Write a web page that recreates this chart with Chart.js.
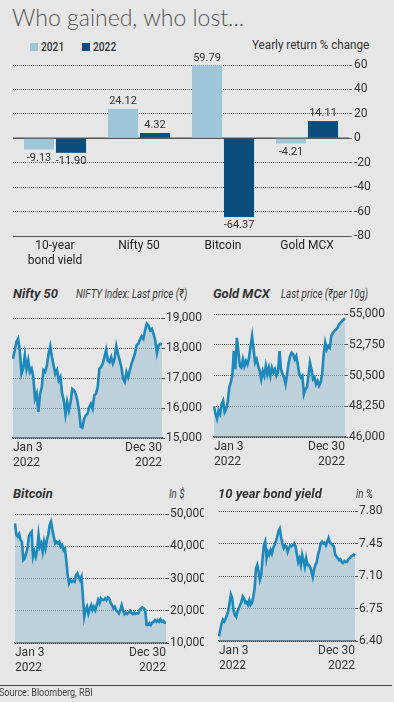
<!DOCTYPE html>
<html>
<head>
<meta charset="utf-8">
<script src="https://cdn.jsdelivr.net/npm/chart.js@4.4.1/dist/chart.umd.min.js"></script>
<style>
  body { margin: 0; width: 394px; height: 702px; background: #e6e6e6; position: relative; overflow: hidden;
         font-family: Roboto, sans-serif; color: #333; }
  canvas { position: absolute; }
  .t { position: absolute; white-space: nowrap; transform-origin: left top; }
  .head { font-weight: bold; font-style: italic; font-size: 13px; color: #333; }
  .sub { font-style: italic; font-size: 12.5px; color: #3a3a3a; transform: scaleX(0.78); }
  .sq { position: absolute; width: 8px; height: 8px; }
</style>
</head>
<body>

<div class="t" style="left:12px;top:3px;font:300 23px Lato, 'Open Sans', sans-serif;color:#555;">Who gained, who lost...</div>

<div class="sq" style="left:30px;top:43px;background:#9fc5d8;"></div>
<div class="t" style="left:41px;top:40px;font-size:12px;font-weight:500;transform:scaleX(0.85);">2021</div>
<div class="sq" style="left:82px;top:43px;background:#0b4d7c;"></div>
<div class="t" style="left:93px;top:40px;font-size:12px;font-weight:500;transform:scaleX(0.85);">2022</div>
<div class="t" style="left:252px;top:38px;font-size:12px;transform:scaleX(0.97);">Yearly return % change</div>

<canvas id="bars" width="394" height="264" style="left:0;top:0;"></canvas>

<div class="t head" style="left:13px;top:286px;">Nifty 50</div>
<div class="t sub" style="left:76px;top:286px;">NIFTY Index: Last price (₹)</div>
<div class="t head" style="left:213px;top:286px;">Gold MCX</div>
<div class="t sub" style="left:281px;top:286px;">Last price (₹per 10g)</div>
<canvas id="nifty" width="204" height="175" style="left:0;top:300px;"></canvas>
<canvas id="gold" width="194" height="175" style="left:200px;top:300px;"></canvas>

<div class="t head" style="left:13px;top:486px;">Bitcoin</div>
<div class="t sub" style="left:169px;top:486px;">In $</div>
<div class="t head" style="left:218px;top:486px;">10 year bond yield</div>
<div class="t sub" style="left:356px;top:486px;">in %</div>
<canvas id="btc" width="204" height="185" style="left:0;top:495px;"></canvas>
<canvas id="bond" width="190" height="185" style="left:204px;top:495px;"></canvas>

<div style="position:absolute;left:0;top:685px;width:392px;height:1px;background:#444;"></div>
<div class="t" style="left:-1px;top:687px;font-size:10px;color:#444;transform:scaleX(0.9);">Source: Bloomberg, RBI</div>

<script>
// BAR DATA
const categories = [['10-year', 'bond yield'], 'Nifty 50', 'Bitcoin', 'Gold MCX'];
const returns2021 = [-9.13, 24.12, 59.79, -4.21];
const returns2022 = [-11.90, 4.32, -64.37, 14.11];
const barTicks = [60, 50, 40, 30, 20, 10, 0, -10, -20, -30, -40, -50, -60, -70, -80];

// LINE DATA (roughly every few trading days)
const niftyValues = [17640, 17920, 18200, 18310, 17920, 17140, 17310, 17760, 17310, 17590, 17200, 17310, 17030, 16310,
  16480, 15870, 16480, 16700, 17260, 17200, 17420, 17810, 18060, 17700, 17420, 17140, 17260, 16920, 17030, 16480,
  16260, 15790, 16200, 15920, 16200, 16640, 16590, 16480, 16260, 15920, 15370, 15340, 15640, 15760, 15810, 16030,
  16140, 15980, 16420, 16480, 16700, 17310, 17370, 17480, 17700, 17940, 17590, 17530, 17700, 17480, 17640, 18060,
  17810, 17590, 17370, 16980, 16870, 17200, 17030, 17260, 17480, 17640, 17810, 18090, 18140, 18280, 18390, 18310,
  18590, 18810, 18760, 18590, 18640, 18480, 18260, 17830, 18090, 18140, 18120];
const niftyTicks = [15000, 16000, 17000, 18000, 19000];

const goldValues = [48230, 47690, 47330, 47940, 47690, 48420, 48660, 47820, 48060, 48540, 49630, 49990, 50480, 52290,
  50960, 53260, 52290, 51200, 51080, 51690, 51200, 51570, 51320, 51810, 52650, 53380, 52410, 51440, 51690, 51200,
  50840, 50230, 50840, 50480, 51200, 50600, 51080, 50480, 51080, 50720, 50960, 50480, 50720, 52290, 50960, 50600,
  50360, 49870, 50600, 51440, 51930, 52170, 52050, 51690, 51930, 51320, 50600, 50360, 50480, 49150, 49510, 49630,
  50480, 51440, 50960, 50230, 50360, 49870, 50110, 49750, 49990, 50600, 52050, 52900, 52410, 52650, 52530, 53380,
  53620, 53740, 53860, 53980, 54230, 54350, 54470, 54590, 54660];
const goldTicks = [46000, 48250, 50500, 52750, 55000];

const btcValues = [47100, 43490, 42970, 43800, 41930, 41420, 35730, 36250, 37800, 39350, 42970, 44000, 44520, 36760,
  38310, 36760, 38830, 43490, 39870, 40900, 38310, 41420, 39350, 41930, 43490, 46590, 47620, 45040, 42970, 40900,
  41420, 40900, 41420, 39870, 40380, 38830, 39350, 35730, 31080, 28490, 29530, 29010, 29320, 29010, 31080, 31600,
  30560, 29530, 30560, 24360, 18150, 20220, 21250, 19180, 20740, 21770, 20220, 21250, 20220, 21770, 23320, 22290,
  23840, 23320, 23320, 23840, 23320, 24150, 23840, 22500, 21770, 20740, 21250, 20220, 19700, 19180, 20220, 21770,
  20220, 18980, 19390, 18980, 19390, 20010, 19390, 18980, 19390, 18980, 19180, 19180, 20220, 20740, 21050, 20740,
  20220, 15570, 15570, 16080, 15570, 16290, 16600, 17120, 16600, 17120, 16600, 17330, 16600, 16910, 16290, 16290];
const btcTicks = [10000, 20000, 30000, 40000, 50000];

const bondValues = [6.45, 6.52, 6.59, 6.63, 6.61, 6.64, 6.68, 6.72, 6.81, 6.90, 6.86, 6.73, 6.68, 6.66, 6.72, 6.75,
  6.79, 6.82, 6.88, 6.86, 6.81, 6.82, 6.79, 6.84, 6.79, 6.81, 6.88, 6.97, 7.18, 7.22, 7.15, 7.06, 7.11, 7.29, 7.43,
  7.47, 7.29, 7.36, 7.33, 7.38, 7.34, 7.40, 7.43, 7.47, 7.52, 7.58, 7.61, 7.52, 7.45, 7.40, 7.43, 7.42, 7.36, 7.40,
  7.43, 7.42, 7.43, 7.45, 7.42, 7.33, 7.25, 7.29, 7.22, 7.33, 7.27, 7.20, 7.29, 7.22, 7.22, 7.20, 7.15, 7.09, 7.17,
  7.22, 7.25, 7.33, 7.38, 7.45, 7.47, 7.45, 7.46, 7.43, 7.47, 7.51, 7.46, 7.45, 7.43, 7.42, 7.33, 7.31, 7.29, 7.27,
  7.28, 7.25, 7.24, 7.26, 7.25, 7.25, 7.28, 7.29, 7.31, 7.32, 7.33, 7.32];
const bondTicks = [6.40, 6.75, 7.10, 7.45, 7.80];

const dateLabels = [['Jan 3', '2022'], ['Dec 30', '2022']];

const FONT = 'Roboto, sans-serif';
Chart.defaults.font.family = FONT;
Chart.defaults.font.size = 12;
Chart.defaults.color = '#333';
Chart.defaults.animation = false;

// values on top / under the bars, solid zero line
const barLabels = {
  id: 'barLabels',
  beforeDatasetsDraw(chart) {
    const ctx = chart.ctx;
    const y0 = chart.scales.y.getPixelForValue(0);
    ctx.save();
    ctx.strokeStyle = '#555';
    ctx.lineWidth = 1.5;
    ctx.beginPath();
    ctx.moveTo(chart.chartArea.left, y0);
    ctx.lineTo(chart.chartArea.right, y0);
    ctx.stroke();
    ctx.restore();
  },
  afterDatasetsDraw(chart) {
    const ctx = chart.ctx;
    ctx.save();
    ctx.font = '11px ' + FONT;
    ctx.fillStyle = '#333';
    ctx.textAlign = 'center';
    chart.data.datasets.forEach((ds, i) => {
      chart.getDatasetMeta(i).data.forEach((bar, j) => {
        const v = ds.data[j];
        if (v >= 0) {
          ctx.textBaseline = 'bottom';
          ctx.fillText(v.toFixed(2), bar.x, bar.y - 2);
        } else {
          ctx.textBaseline = 'top';
          ctx.fillText(v.toFixed(2), bar.x, bar.y + 3);
        }
      });
    });
    ctx.restore();
  }
};

new Chart(document.getElementById('bars'), {
  type: 'bar',
  data: {
    labels: categories,
    datasets: [
      { label: '2021', data: returns2021, backgroundColor: '#9fc5d8' },
      { label: '2022', data: returns2022, backgroundColor: '#0b4d7c' }
    ]
  },
  options: {
    responsive: false,
    devicePixelRatio: 1,
    layout: { padding: { top: 65, left: 13, right: 0, bottom: 0 } },
    categoryPercentage: 0.762,
    barPercentage: 0.94,
    plugins: { legend: { display: false }, tooltip: { enabled: false } },
    scales: {
      x: {
        grid: { display: false, drawTicks: false },
        border: { display: true, color: '#555', width: 1 },
        ticks: { padding: 3, color: '#222', font: { size: 12 } },
        afterFit: s => { s.height = 28; }
      },
      y: {
        position: 'right',
        min: -80,
        max: 60,
        afterBuildTicks: s => { s.ticks = barTicks.map(v => ({ value: v })); },
        ticks: { padding: 2, callback: v => (v % 20 === 0 ? v : ''), font: { size: 12 } },
        grid: { color: '#666', lineWidth: 1, tickLength: 3 },
        border: { display: false, dash: [1, 1] },
        afterFit: s => { s.width = 45; }
      }
    }
  },
  plugins: [barLabels]
});

function linePanel(id, values, ticks, fmt, pad, yWidth, xHeight) {
  new Chart(document.getElementById(id), {
    type: 'line',
    data: {
      labels: values.map((v, i) => i),
      datasets: [{
        data: values,
        borderColor: '#1c88bb',
        borderWidth: 2.6,
        backgroundColor: 'rgba(150,185,205,0.5)',
        fill: 'start',
        pointRadius: 0,
        tension: 0
      }]
    },
    options: {
      responsive: false,
      devicePixelRatio: 1,
      layout: { padding: pad },
      plugins: { legend: { display: false }, tooltip: { enabled: false } },
      scales: {
        x: {
          afterBuildTicks: s => { s.ticks = [{ value: 0 }, { value: values.length - 1 }]; },
          ticks: { align: 'inner', maxRotation: 0, autoSkip: false, padding: 3,
                   callback: (v, i) => dateLabels[i], font: { size: 12, lineHeight: 1.2 } },
          grid: { display: false, drawTicks: false },
          border: { display: true, color: '#444', width: 1.5 },
          afterFit: s => { s.height = xHeight; }
        },
        y: {
          position: 'right',
          min: ticks[0],
          max: ticks[ticks.length - 1],
          afterBuildTicks: s => { s.ticks = ticks.map(v => ({ value: v })); },
          ticks: { padding: 1, callback: fmt, font: { size: 12 } },
          grid: { color: '#555', lineWidth: 1, tickLength: 3 },
          border: { display: false, dash: [1, 1] },
          afterFit: s => { s.width = yWidth; }
        }
      }
    }
  });
}

const comma = v => v.toLocaleString('en-US');
linePanel('nifty', niftyValues, niftyTicks, comma, { left: 13, top: 18, right: 0, bottom: 0 }, 42, 37);
linePanel('gold', goldValues, goldTicks, comma, { left: 14, top: 14, right: 0, bottom: 0 }, 49, 38);
linePanel('btc', btcValues, btcTicks, comma, { left: 15, top: 19, right: 0, bottom: 0 }, 38, 37);
linePanel('bond', bondValues, bondTicks, v => v.toFixed(2), { left: 15, top: 16, right: 0, bottom: 0 }, 39, 39);
</script>
</body>
</html>
